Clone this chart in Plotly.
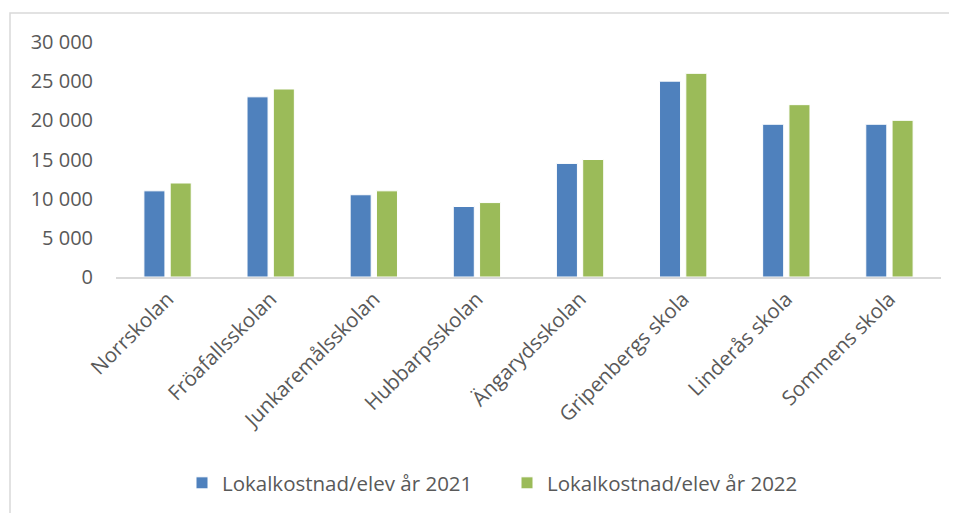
import plotly.graph_objects as go

schools = ["Norrskolan", "Fröafallsskolan", "Junkaremålsskolan", "Hubbarpsskolan",
           "Ängarydsskolan", "Gripenbergs skola", "Linderås skola", "Sommens skola"]
cost_2021 = [11000, 23000, 10500, 9000, 14500, 25000, 19500, 19500]
cost_2022 = [12000, 24000, 11000, 9500, 15000, 26000, 22000, 20000]
name_2021 = "Lokalkostnad/elev år 2021"
name_2022 = "Lokalkostnad/elev år 2022"
tick_vals = [0, 5000, 10000, 15000, 20000, 25000, 30000]
tick_text = ["0", "5 000", "10 000", "15 000", "20 000", "25 000", "30 000"]

font = "Open Sans"
fig = go.Figure()
fig.add_trace(go.Bar(x=schools, y=cost_2021, name=name_2021,
                     marker=dict(color="#4f81bd", line=dict(color="#ffffff", width=1))))
fig.add_trace(go.Bar(x=schools, y=cost_2022, name=name_2022,
                     marker=dict(color="#9bbb59", line=dict(color="#ffffff", width=1))))

# page body has an 8px offset; coordinates below are in figure pixels
OFF = 8
W, H = 957, 513
L, R, T, B = 116 - OFF, 24, 42 - OFF, 244
pw, ph = W - L - R, H - T - B
y0px = H - B  # pixel of value 0 (figure coords)

fig.update_layout(
    width=W, height=H,
    margin=dict(l=L, r=R, t=T, b=B, autoexpand=False),
    paper_bgcolor="white", plot_bgcolor="white",
    barmode="group", bargap=0.49, bargroupgap=0.2,
    font=dict(family=font, color="#595959", size=20),
    showlegend=True,
    legend=dict(orientation="h", x=(196 - OFF - L - 14) / pw, xanchor="left",
                y=-(483 - OFF - y0px) / ph, yanchor="middle",
                font=dict(size=20.5, color="#595959"), itemwidth=30,
                entrywidth=280, traceorder="normal"),
    xaxis=dict(showgrid=False, showline=True, linecolor="#d9d9d9", linewidth=2,
               tickangle=-45, ticks="", tickfont=dict(size=20.5, color="#595959")),
    yaxis=dict(range=[0, 30000], tickvals=tick_vals, ticktext=tick_text,
               showgrid=False, showline=False, zeroline=False, ticks="",
               ticklabelstandoff=22, tickfont=dict(size=20, color="#595959")),
    shapes=[dict(type="rect", xref="paper", yref="paper",
                 x0=(10 - OFF - L) / pw, x1=(W + 20 - L) / pw,
                 y0=-(H + 20 - y0px) / ph, y1=(y0px - (13 - OFF)) / ph,
                 line=dict(color="#d9d9d9", width=1.5), layer="below")],
)

fig.write_html("out.html")
